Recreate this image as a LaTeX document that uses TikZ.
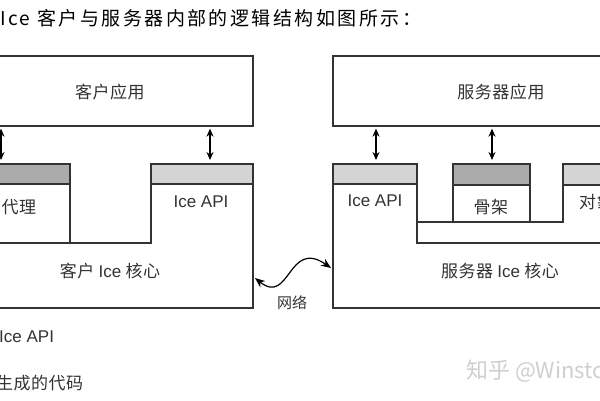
\documentclass[tikz,border=0pt]{standalone}
\usepackage{fontspec}
\setmainfont{Noto Sans CJK SC}
\newfontfamily\latinsans{Liberation Sans}
\usetikzlibrary{arrows.meta}
\definecolor{ln}{HTML}{333333}
\definecolor{tx}{HTML}{333333}
\definecolor{bandlight}{HTML}{D4D4D4}
\definecolor{banddark}{HTML}{ABABAB}
\definecolor{wm}{HTML}{CFCFCF}
\tikzset{
  outline/.style={draw=ln, line width=1.3pt},
  lbl/.style={text=tx, inner sep=0pt, font=\fontsize{17}{19}\selectfont\addfontfeature{LetterSpace=3}},
  latinlbl/.style={text=tx, inner sep=0pt, font=\fontsize{17}{19}\selectfont\latinsans},
  band/.style={draw=ln, line width=1.3pt},
  dar/.style={{Stealth[length=8pt,width=7pt]}-{Stealth[length=8pt,width=7pt]}, line width=1.3pt, draw=black},
  net/.style={{Stealth[length=10pt,width=8pt]}-{Stealth[length=10pt,width=8pt]}, line width=1.2pt, draw=black},
}
\begin{document}
\begin{tikzpicture}[x=1pt,y=-1pt]
\useasboundingbox (0,0) rectangle (600,400);
\fill[white] (0,0) rectangle (600,400);
\clip (0,0) rectangle (600,400);

% title
\node[anchor=west, inner sep=0pt, text=black, font=\fontsize{19}{21}\selectfont\addfontfeature{LetterSpace=13}] (title) at (0,18) {Ice 客户与服务器内部的逻辑结构如图所示：};

% ---------- client ----------
\node[outline, minimum width=286pt, minimum height=70pt, inner sep=0pt] (capp) at (110,91) {};
\node[lbl] (capptxt) at (110,92) {客户应用};

% bands
\filldraw[band, fill=banddark] (-40,164) rectangle (70,184);
\filldraw[band, fill=bandlight] (151,164) rectangle (253,184);
% core outline
\draw[outline] (-40,308) -- (253,308) -- (253,164) -- (151,164) -- (151,243) -- (-40,243);
\draw[outline] (70,243) -- (70,164) -- (-40,164);

\node[lbl] (proxy) at (19,207) {代理};
\node[latinlbl] (capi) at (201,202) {Ice API};
\node[lbl] (ccore) at (110,271) {客户 {\latinsans Ice} 核心};

\coordinate (cpx) at (1,160);
\coordinate (cax) at (210,160);
\draw[dar] ([yshift=-2pt]cpx |- capp.south) -- (cpx);
\draw[dar] ([yshift=-2pt]cax |- capp.south) -- (cax);

% legend texts
\node[latinlbl, anchor=west] (legapi) at (-1,337) {Ice API};
\node[lbl, anchor=west] (leggen) at (-4,383) {生成的代码};

% ---------- server ----------
\node[outline, minimum width=334pt, minimum height=70pt, inner sep=0pt] (sapp) at (500,91) {};
\node[lbl] (sapptxt) at (501,92) {服务器应用};

\filldraw[band, fill=bandlight] (333,164) rectangle (417,184);
\filldraw[band, fill=banddark] (453,164) rectangle (530,185);
\filldraw[band, fill=bandlight] (563,164) rectangle (640,185);

\draw[outline] (333,164) -- (333,308) -- (640,308);
\draw[outline] (417,164) -- (417,243) -- (640,243);
\draw[outline] (417,222) -- (563,222) -- (563,164);
\draw[outline] (453,222) -- (453,164);
\draw[outline] (530,222) -- (530,164);

\node[latinlbl] (sapi) at (375,201) {Ice API};
\node[lbl] (skel) at (491,207) {骨架};
\node[lbl, anchor=west] (adapt) at (579,202) {对象适配器};
\node[lbl] (score) at (500,271) {服务器 {\latinsans Ice} 核心};

\coordinate (sax) at (376,160);
\coordinate (ssx) at (492,160);
\draw[dar] ([yshift=-2pt]sax |- sapp.south) -- (sax);
\draw[dar] ([yshift=-2pt]ssx |- sapp.south) -- (ssx);

% ---------- network ----------
\coordinate (nl) at (255,278);
\coordinate (nr) at (331,268);
\draw[net] (nl) .. controls (290,306) and (288,238) .. (nr);
\node[lbl, font=\fontsize{15}{17}\selectfont] (netlbl) at (292,303) {网络};

% watermark
\node[anchor=west, inner sep=0pt, text=wm, font=\fontsize{22}{24}\selectfont] (wmark) at (466,371) {知乎 @Winstone};
\end{tikzpicture}
\end{document}
